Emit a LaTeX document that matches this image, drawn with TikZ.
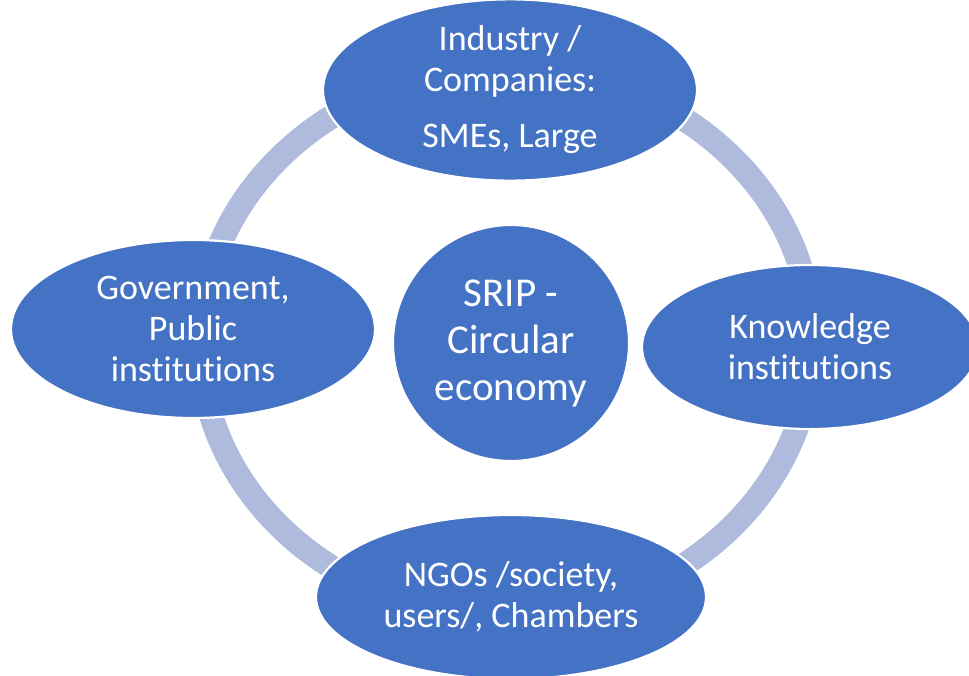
\documentclass[tikz,border=0pt]{standalone}
\usepackage{fontspec}
\setmainfont{Carlito}[Ligatures={NoCommon}]
\usetikzlibrary{shapes.geometric}
\definecolor{nodeblue}{HTML}{4472C4}
\definecolor{ringblue}{RGB}{174,187,221}
\tikzset{
  blob/.style={ellipse, fill=nodeblue, draw=white, line width=2.2pt, inner sep=0pt,
    text=white, align=center, font=\fontsize{36}{41}\selectfont},
  ring/.style={draw=ringblue, line width=24pt}
}
\begin{document}
\begin{tikzpicture}[x=1pt,y=-1pt]
\useasboundingbox (0,0) rectangle (969,675);
\clip (0,0) rectangle (969,675);
\coordinate (c) at (506,342);
\draw[ring] (c) ellipse [x radius=306, y radius=274];
\node[blob, minimum width=374pt, minimum height=164pt] (top) at (510,90)
  {Industry /\\Companies:\\[15pt]SMEs, Large};
\node[blob, minimum width=364pt, minimum height=178pt] (left) at (193,329)
  {Government,\\Public\\institutions};
\node[blob, minimum width=336pt, minimum height=164pt] (right) at (810,347)
  {Knowledge\\institutions};
\node[blob, minimum width=390pt, minimum height=164pt] (bottom) at (511,597)
  {NGOs /society,\\users/, Chambers};
\node[blob, circle, minimum size=236pt, font=\fontsize{41}{47}\selectfont] (center) at (511,343)
  {SRIP -\\Circular\\economy};
\end{tikzpicture}
\end{document}
